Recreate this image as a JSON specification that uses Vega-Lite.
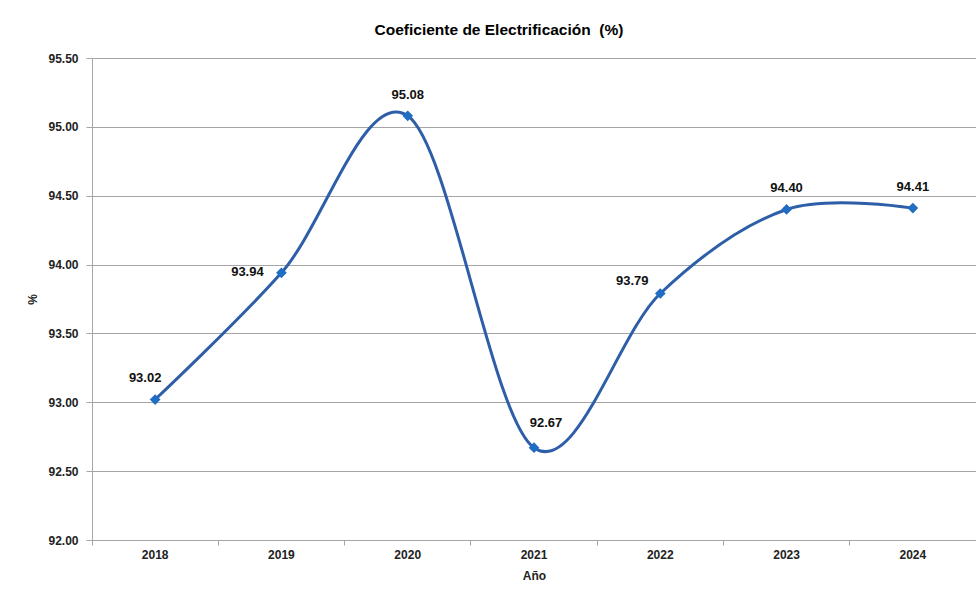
{
  "$schema": "https://vega.github.io/schema/vega-lite/v6.json",
  "width": 884,
  "height": 482,
  "autosize": "none",
  "padding": {"left": 92, "top": 58, "right": 0, "bottom": 54},
  "background": "white",
  "title": {
    "text": "Coeficiente de Electrificación\u00a0 (%)",
    "font": "Liberation Sans",
    "fontSize": 15.5,
    "fontWeight": "bold",
    "color": "#000000",
    "anchor": "middle",
    "dx": -35,
    "offset": 14
  },
  "data": {
    "values": [
      {"year": "2018", "value": 93.02},
      {"year": "2019", "value": 93.94},
      {"year": "2020", "value": 95.08},
      {"year": "2021", "value": 92.67},
      {"year": "2022", "value": 93.79},
      {"year": "2023", "value": 94.40},
      {"year": "2024", "value": 94.41}
    ]
  },
  "config": {
    "view": {"stroke": null},
    "axis": {
      "labelFont": "Liberation Sans",
      "labelFontWeight": "bold",
      "labelFontSize": 12,
      "labelColor": "#222222",
      "titleFont": "Liberation Sans",
      "titleFontWeight": "bold",
      "titleFontSize": 12,
      "titleColor": "#222222",
      "domainColor": "#a6a6a6",
      "tickColor": "#a6a6a6",
      "gridColor": "#a6a6a6"
    }
  },
  "encoding": {
    "x": {
      "field": "year",
      "type": "ordinal",
      "scale": {"type": "band", "paddingInner": 0, "paddingOuter": 0},
      "axis": null
    },
    "y": {
      "field": "value",
      "type": "quantitative",
      "scale": {"domain": [92, 95.5], "nice": false, "zero": false},
      "axis": {
        "title": "%",
        "values": [92, 92.5, 93, 93.5, 94, 94.5, 95, 95.5],
        "format": ".2f",
        "grid": true,
        "tickSize": 6,
        "labelPadding": 8,
        "titlePadding": 8,
        "domain": true
      }
    }
  },
  "resolve": {"axis": {"x": "independent"}},
  "layer": [
    {
      "mark": {"type": "line", "interpolate": "cardinal", "tension": 0, "color": "#2e5ea8", "strokeWidth": 3},
      "encoding": {
        "x": {
          "field": "year",
          "type": "ordinal",
          "axis": {"title": "Año", "labelAngle": 0, "ticks": false, "labelPadding": 9, "titlePadding": 10, "domain": true, "orient": "bottom"}
        }
      }
    },
    {
      "mark": {"type": "point", "shape": "diamond", "filled": true, "size": 115, "color": "#1f6ec4", "opacity": 1},
      "encoding": {
        "x": {
          "field": "year",
          "type": "ordinal",
          "axis": {"title": null, "labels": false, "ticks": true, "tickSize": 5, "bandPosition": 0, "domain": false, "grid": false, "orient": "bottom"}
        }
      }
    },
    {
      "transform": [{"filter": "datum.year == '2020' || datum.year == '2023' || datum.year == '2024'"}],
      "mark": {"type": "text", "font": "Liberation Sans", "fontWeight": "bold", "fontSize": 13, "color": "#111111", "dy": -21},
      "encoding": {"text": {"field": "value", "type": "quantitative", "format": ".2f"}}
    },
    {
      "transform": [{"filter": "datum.year == '2018'"}],
      "mark": {"type": "text", "font": "Liberation Sans", "fontWeight": "bold", "fontSize": 13, "color": "#111111", "dy": -22, "dx": -10},
      "encoding": {"text": {"field": "value", "type": "quantitative", "format": ".2f"}}
    },
    {
      "transform": [{"filter": "datum.year == '2021'"}],
      "mark": {"type": "text", "font": "Liberation Sans", "fontWeight": "bold", "fontSize": 13, "color": "#111111", "dy": -25, "dx": 12},
      "encoding": {"text": {"field": "value", "type": "quantitative", "format": ".2f"}}
    },
    {
      "transform": [{"filter": "datum.year == '2019'"}],
      "mark": {"type": "text", "font": "Liberation Sans", "fontWeight": "bold", "fontSize": 13, "color": "#111111", "dy": -1, "dx": -34},
      "encoding": {"text": {"field": "value", "type": "quantitative", "format": ".2f"}}
    },
    {
      "transform": [{"filter": "datum.year == '2022'"}],
      "mark": {"type": "text", "font": "Liberation Sans", "fontWeight": "bold", "fontSize": 13, "color": "#111111", "dy": -12, "dx": -28},
      "encoding": {"text": {"field": "value", "type": "quantitative", "format": ".2f"}}
    }
  ]
}
